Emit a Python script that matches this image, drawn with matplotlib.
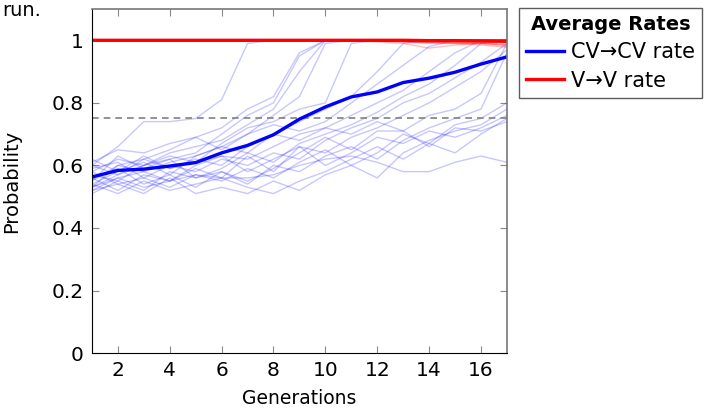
import matplotlib.pyplot as plt
import numpy as np

plt.rcParams['font.family'] = ['DejaVu Sans']

generations = list(range(1, 18))

# average rates
cv_mean = [0.563, 0.584, 0.588, 0.598, 0.609, 0.640, 0.664, 0.698, 0.748,
           0.787, 0.819, 0.835, 0.865, 0.879, 0.898, 0.924, 0.947]
v_mean = [1.0, 1.0, 1.0, 1.0, 1.0, 1.0, 1.0, 1.0, 1.0,
          1.0, 1.0, 1.0, 1.0, 0.999, 0.999, 0.998, 0.997]

# individual CV->CV runs
cv_runs = [
    [0.60, 0.66, 0.74, 0.74, 0.75, 0.81, 0.99, 1, 1, 1, 1, 1, 1, 1, 1, 1, 1],
    [0.55, 0.60, 0.62, 0.65, 0.69, 0.72, 0.78, 0.82, 0.96, 1, 1, 1, 1, 1, 1, 1, 1],
    [0.53, 0.57, 0.60, 0.62, 0.64, 0.70, 0.76, 0.80, 0.95, 1, 1, 1, 1, 1, 1, 1, 1],
    [0.58, 0.62, 0.60, 0.64, 0.66, 0.68, 0.73, 0.78, 0.90, 1, 1, 1, 1, 1, 1, 1, 1],
    [0.52, 0.56, 0.58, 0.61, 0.63, 0.66, 0.70, 0.76, 0.82, 0.99, 1, 1, 1, 1, 1, 1, 1],
    [0.57, 0.55, 0.60, 0.63, 0.61, 0.67, 0.72, 0.74, 0.78, 0.80, 0.99, 1, 1, 1, 1, 1, 1],
    [0.54, 0.58, 0.63, 0.59, 0.62, 0.60, 0.66, 0.70, 0.74, 0.78, 0.82, 0.90, 0.99, 1, 1, 1, 1],
    [0.61, 0.65, 0.64, 0.67, 0.69, 0.65, 0.70, 0.73, 0.71, 0.74, 0.80, 0.86, 0.92, 0.98, 1, 1, 1],
    [0.56, 0.52, 0.57, 0.55, 0.60, 0.63, 0.62, 0.66, 0.70, 0.72, 0.76, 0.80, 0.84, 0.90, 0.96, 1, 1],
    [0.51, 0.55, 0.52, 0.58, 0.56, 0.59, 0.64, 0.61, 0.67, 0.70, 0.73, 0.77, 0.82, 0.86, 0.92, 0.99, 1],
    [0.59, 0.61, 0.56, 0.60, 0.58, 0.62, 0.60, 0.64, 0.62, 0.68, 0.72, 0.75, 0.80, 0.83, 0.88, 0.93, 0.99],
    [0.53, 0.60, 0.58, 0.55, 0.59, 0.56, 0.63, 0.58, 0.66, 0.64, 0.69, 0.72, 0.76, 0.80, 0.85, 0.90, 0.97],
    [0.62, 0.58, 0.61, 0.57, 0.63, 0.66, 0.64, 0.70, 0.68, 0.72, 0.70, 0.74, 0.71, 0.76, 0.78, 0.83, 0.99],
    [0.55, 0.63, 0.59, 0.62, 0.56, 0.58, 0.54, 0.60, 0.58, 0.63, 0.66, 0.62, 0.68, 0.72, 0.75, 0.78, 0.96],
    [0.58, 0.54, 0.56, 0.53, 0.57, 0.55, 0.59, 0.56, 0.61, 0.65, 0.60, 0.64, 0.70, 0.67, 0.73, 0.75, 0.80],
    [0.52, 0.54, 0.51, 0.56, 0.51, 0.53, 0.51, 0.55, 0.52, 0.57, 0.60, 0.56, 0.64, 0.68, 0.71, 0.73, 0.78],
    [0.60, 0.57, 0.62, 0.59, 0.61, 0.63, 0.58, 0.62, 0.66, 0.60, 0.64, 0.69, 0.67, 0.71, 0.69, 0.72, 0.76],
    [0.54, 0.51, 0.55, 0.52, 0.54, 0.56, 0.53, 0.51, 0.55, 0.58, 0.62, 0.66, 0.62, 0.67, 0.64, 0.70, 0.75],
    [0.56, 0.59, 0.54, 0.57, 0.53, 0.58, 0.55, 0.59, 0.64, 0.69, 0.65, 0.71, 0.71, 0.66, 0.72, 0.71, 0.74],
    [0.53, 0.56, 0.53, 0.55, 0.57, 0.56, 0.56, 0.57, 0.60, 0.62, 0.63, 0.61, 0.58, 0.58, 0.61, 0.63, 0.61],
]

# individual V->V runs
v_runs = [
    [1, 1, 1, 1, 1, 1, 1, 1, 1, 1, 0.998, 0.995, 0.990, 0.975, 0.985, 0.990, 0.985],
    [1, 1, 1, 1, 1, 1, 1, 1, 1, 1, 1, 0.998, 0.995, 0.990, 0.990, 0.985, 0.978],
    [1, 1, 1, 1, 1, 1, 1, 1, 1, 1, 1, 1, 0.998, 0.995, 0.993, 0.990, 0.988],
    [1, 1, 1, 1, 1, 1, 1, 1, 1, 1, 1, 1, 1, 0.998, 0.996, 0.994, 0.992],
    [1, 1, 1, 1, 1, 1, 1, 1, 1, 1, 0.999, 0.997, 0.995, 0.993, 0.990, 0.992, 0.995],
    [1, 1, 1, 1, 1, 1, 1, 1, 1, 1, 1, 1, 1, 1, 0.999, 0.997, 0.996],
    [1, 1, 1, 1, 1, 1, 1, 1, 1, 1, 1, 0.999, 0.997, 0.994, 0.992, 0.990, 0.982],
    [1, 1, 1, 1, 1, 1, 1, 1, 1, 1, 1, 1, 1, 1, 1, 1, 1],
]

threshold = 0.75

fig = plt.figure(figsize=(7.07, 4.11), dpi=100)
ax = fig.add_axes([0.130, 0.141, 0.587, 0.837])

for run in cv_runs:
    ax.plot(generations, run, color='blue', alpha=0.22, lw=1)
for run in v_runs:
    ax.plot(generations, run, color='red', alpha=0.25, lw=1)

ax.axhline(threshold, color='gray', ls=(0, (4, 3)), lw=1.2)
cv_line, = ax.plot(generations, cv_mean, color='blue', lw=2.4)
v_line, = ax.plot(generations, v_mean, color='red', lw=2.4)

ax.set_xlim(1, 17)
ax.set_ylim(0, 1.1)
ax.set_xticks([2, 4, 6, 8, 10, 12, 14, 16])
ax.set_yticks([0, 0.2, 0.4, 0.6, 0.8, 1.0])
ax.set_yticklabels(['0', '0.2', '0.4', '0.6', '0.8', '1'])
ax.tick_params(direction='in', top=True, right=True, length=5,
               color='#888888', labelsize=14.5, pad=6)
ax.set_xlabel('Generations', fontsize=13.5, labelpad=6)
ax.set_ylabel('Probability', fontsize=14, labelpad=22)
for side in ['top', 'right']:
    ax.spines[side].set_color('#777777')
    ax.spines[side].set_linewidth(1.2)

leg = ax.legend([cv_line, v_line], ['CV→CV rate', 'V→V rate'],
                title='Average Rates', loc='upper left',
                bbox_to_anchor=(0.734, 0.981), bbox_transform=fig.transFigure,
                fontsize=15, title_fontsize=14, frameon=True, fancybox=False,
                edgecolor='#333333', handlelength=1.8, borderpad=0.35,
                labelspacing=0.4, handletextpad=0.35, borderaxespad=0)
leg.get_title().set_fontweight('bold')
leg.get_frame().set_linewidth(1.0)

fig.text(0.003, 0.998, 'run.', fontsize=14, va='top', ha='left')

fig.savefig('out.png', dpi=100)
